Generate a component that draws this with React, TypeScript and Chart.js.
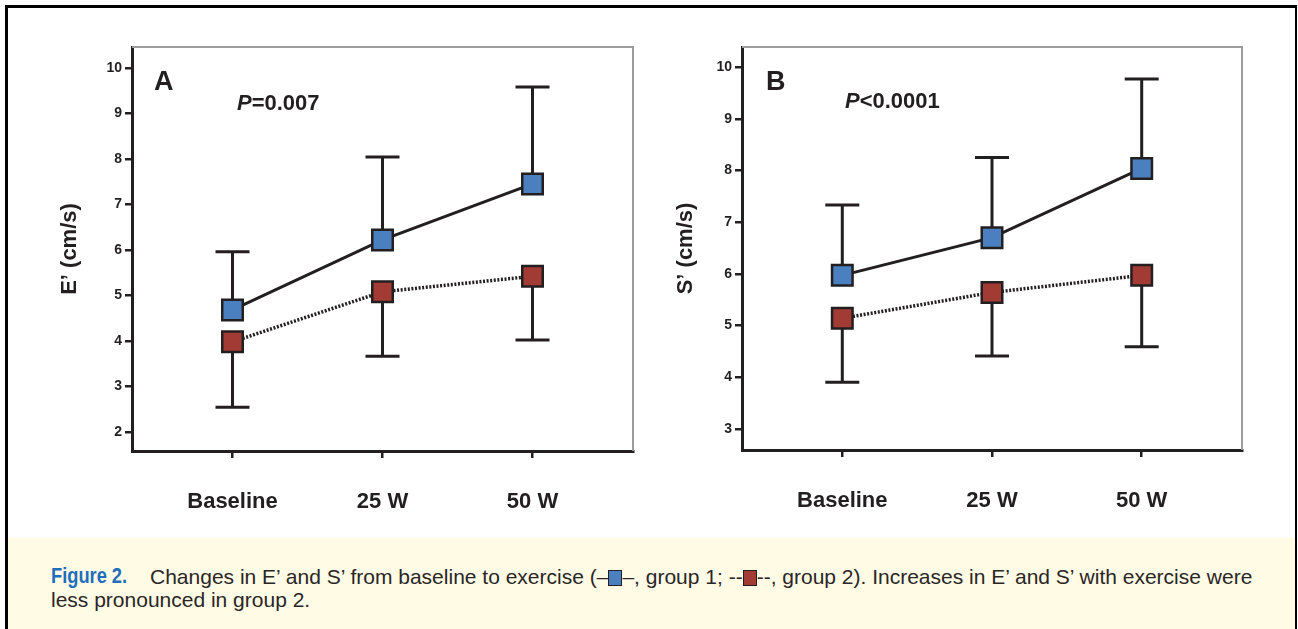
import React, { useEffect, useRef } from "react";
import { Chart, registerables } from "chart.js";
Chart.register(...registerables);

// ---------- data ----------
const categories = ["Baseline", "25 W", "50 W"];

// Panel A: E' (cm/s)
const eGroup1 = [4.68, 6.22, 7.45];
const eGroup1Upper = [5.96, 8.04, 9.58];
const eGroup2 = [3.98, 5.08, 5.42];
const eGroup2Lower = [2.54, 3.66, 4.02];
const eTicks = [2, 3, 4, 5, 6, 7, 8, 9, 10];

// Panel B: S' (cm/s)
const sGroup1 = [5.97, 6.7, 8.04];
const sGroup1Upper = [7.33, 8.25, 9.77];
const sGroup2 = [5.14, 5.64, 5.97];
const sGroup2Lower = [3.9, 4.41, 4.59];
const sTicks = [3, 4, 5, 6, 7, 8, 9, 10];

const INK = "#231f20";
const BLUE = "#4a7fc0";
const RED = "#a23b33";
const FONT = "'Liberation Sans', Arial, Helvetica, sans-serif";

type PanelDef = {
  letter: string;
  pItalic: string;
  pRest: string;
  yTitle: string;
  g1: number[];
  g1Up: number[];
  g2: number[];
  g2Lo: number[];
  ticks: number[];
  yMin: number;
  yMax: number;
  left: number;
  width: number;
  height: number;
  padRight: number;
  padTop: number;
  yAxisW: number;
  xAxisH: number;
  titlePad: number;
  letterX: number;
  letterY: number;
  pX: number;
  pY: number;
};

const panels: PanelDef[] = [
  {
    letter: "A",
    pItalic: "P",
    pRest: "=0.007",
    yTitle: "E\u2019 (cm/s)",
    g1: eGroup1,
    g1Up: eGroup1Upper,
    g2: eGroup2,
    g2Lo: eGroup2Lower,
    ticks: eTicks,
    yMin: 1.58,
    yMax: 10.46,
    left: 0,
    width: 660,
    height: 530,
    padRight: 27,
    padTop: 47,
    yAxisW: 132,
    xAxisH: 79,
    titlePad: 57,
    letterX: 154,
    letterY: 90,
    pX: 237,
    pY: 110,
  },
  {
    letter: "B",
    pItalic: "P",
    pRest: "<0.0001",
    yTitle: "S\u2019 (cm/s)",
    g1: sGroup1,
    g1Up: sGroup1Upper,
    g2: sGroup2,
    g2Lo: sGroup2Lower,
    ticks: sTicks,
    yMin: 2.59,
    yMax: 10.39,
    left: 650,
    width: 620,
    height: 530,
    padRight: 28,
    padTop: 47,
    yAxisW: 92,
    xAxisH: 80,
    titlePad: 23,
    letterX: 116,
    letterY: 90,
    pX: 195,
    pY: 108,
  },
];

function PanelChart({ def }: { def: PanelDef }) {
  const ref = useRef<HTMLCanvasElement | null>(null);
  useEffect(() => {
    if (!ref.current) return;
    const errorPlugin = {
      id: "errBars",
      beforeDatasetsDraw(chart: any) {
        const ctx = chart.ctx;
        const x = chart.scales.x;
        const y = chart.scales.y;
        const bounds = [def.g1Up, def.g2Lo];
        const means = [def.g1, def.g2];
        ctx.save();
        ctx.strokeStyle = INK;
        ctx.lineWidth = 3;
        ctx.lineCap = "butt";
        for (let s = 0; s < 2; s++) {
          for (let i = 0; i < categories.length; i++) {
            const px = x.getPixelForValue(i);
            const py0 = y.getPixelForValue(means[s][i]);
            const py1 = y.getPixelForValue(bounds[s][i]);
            ctx.beginPath();
            ctx.moveTo(px, py0);
            ctx.lineTo(px, py1);
            ctx.moveTo(px - 17, py1);
            ctx.lineTo(px + 17, py1);
            ctx.stroke();
          }
        }
        ctx.restore();
      },
      afterDraw(chart: any) {
        const ctx = chart.ctx;
        const a = chart.chartArea;
        ctx.save();
        ctx.strokeStyle = "#9c9c9c";
        ctx.lineWidth = 2;
        ctx.beginPath();
        ctx.moveTo(a.left, a.top);
        ctx.lineTo(a.right, a.top);
        ctx.lineTo(a.right, a.bottom);
        ctx.stroke();
        ctx.fillStyle = INK;
        ctx.textBaseline = "alphabetic";
        ctx.font = `bold 27px ${FONT}`;
        ctx.fillText(def.letter, def.letterX, def.letterY);
        ctx.font = `italic bold 22px ${FONT}`;
        ctx.fillText(def.pItalic, def.pX, def.pY);
        const w = ctx.measureText(def.pItalic).width;
        ctx.font = `bold 22px ${FONT}`;
        ctx.fillText(def.pRest, def.pX + w, def.pY);
        ctx.restore();
      },
    };

    const chart = new Chart(ref.current, {
      type: "line",
      data: {
        datasets: [
          {
            label: "group 1",
            data: def.g1.map((v, i) => ({ x: i, y: v })),
            borderColor: INK,
            borderWidth: 3,
            pointStyle: "rect",
            pointRadius: 14.5,
            pointBorderWidth: 2.5,
            pointBorderColor: INK,
            pointBackgroundColor: BLUE,
            tension: 0,
          },
          {
            label: "group 2",
            data: def.g2.map((v, i) => ({ x: i, y: v })),
            borderColor: INK,
            borderWidth: 3.5,
            borderDash: [2, 1.6],
            pointStyle: "rect",
            pointRadius: 14.5,
            pointBorderWidth: 2.5,
            pointBorderColor: INK,
            pointBackgroundColor: RED,
            tension: 0,
          },
        ],
      },
      options: {
        animation: false,
        responsive: false,
        maintainAspectRatio: false,
        events: [],
        layout: { padding: { left: 0, top: def.padTop, right: def.padRight, bottom: 0 } },
        plugins: { legend: { display: false }, tooltip: { enabled: false }, title: { display: false } },
        scales: {
          x: {
            type: "linear",
            min: -0.67,
            max: 2.67,
            afterBuildTicks: (scale: any) => {
              scale.ticks = categories.map((_, i) => ({ value: i }));
            },
            afterFit: (scale: any) => {
              scale.height = def.xAxisH;
            },
            ticks: {
              callback: (v: any) => categories[v as number] ?? "",
              color: INK,
              font: { family: FONT, size: 22, weight: "bold" },
              padding: 31,
              maxRotation: 0,
              autoSkip: false,
            },
            grid: {
              drawOnChartArea: false,
              drawTicks: true,
              tickLength: 7,
              color: INK,
              lineWidth: 2.5,
            },
            border: { display: true, color: INK, width: 3 },
          },
          y: {
            type: "linear",
            min: def.yMin,
            max: def.yMax,
            afterBuildTicks: (scale: any) => {
              scale.ticks = def.ticks.map((v) => ({ value: v }));
            },
            afterFit: (scale: any) => {
              scale.width = def.yAxisW;
            },
            ticks: {
              color: INK,
              font: { family: FONT, size: 14, weight: "bold" },
              padding: 3,
            },
            grid: {
              drawOnChartArea: false,
              drawTicks: true,
              tickLength: 7,
              color: INK,
              lineWidth: 2.5,
            },
            border: { display: true, color: INK, width: 3 },
            title: {
              display: true,
              text: def.yTitle,
              color: INK,
              font: { family: FONT, size: 22, weight: "bold" },
              padding: { top: def.titlePad, bottom: 0 },
            },
          },
        },
      },
      plugins: [errorPlugin],
    } as any);
    return () => chart.destroy();
  }, [def]);
  return (
    <canvas
      ref={ref}
      width={def.width}
      height={def.height}
      style={{ position: "absolute", left: def.left, top: 0, width: def.width, height: def.height }}
    />
  );
}

const boxStyle = (bg: string): React.CSSProperties => ({
  display: "inline-block",
  width: 14,
  height: 16,
  background: bg,
  border: `1.5px solid ${INK}`,
  boxSizing: "border-box",
  verticalAlign: "-2px",
});

export default function App() {
  return (
    <div
      style={{
        position: "absolute",
        left: 0,
        top: 0,
        width: 1298,
        height: 629,
        background: "#ffffff",
        overflow: "hidden",
        fontFamily: FONT,
      }}
    >
      <div
        style={{
          position: "absolute",
          left: 5,
          top: 5,
          width: 1287,
          height: 700,
          borderLeft: "3px solid #000",
          borderTop: "3px solid #000",
          borderRight: "2px solid #000",
          background: "#fff",
        }}
      >
        <div
          style={{
            position: "absolute",
            left: 0,
            top: 530,
            width: 1287,
            height: 200,
            background: "#fffbe4",
          }}
        />
      </div>
      {panels.map((p) => (
        <PanelChart key={p.letter} def={p} />
      ))}
      <div
        style={{
          position: "absolute",
          left: 51,
          top: 565,
          fontSize: 21,
          lineHeight: "23px",
          color: "#2a2627",
          whiteSpace: "nowrap",
          fontFamily: FONT,
        }}
      >
        <span
          style={{
            position: "absolute",
            left: 0,
            top: -1,
            color: "#1f6dbd",
            fontWeight: "bold",
            fontFamily: FONT,
            fontSize: 22,
            display: "inline-block",
            transform: "scaleX(0.83)",
            transformOrigin: "left center",
          }}
        >
          Figure 2.
        </span>
        <span style={{ marginLeft: 99 }}>
          Changes in E{"\u2019"} and S{"\u2019"} from baseline to exercise ({"\u2013"}
          <span style={boxStyle(BLUE)} />
          {"\u2013"}, group 1; --
          <span style={boxStyle(RED)} />
          --, group 2). Increases in E{"\u2019"} and S{"\u2019"} with exercise were
        </span>
        <br />
        less pronounced in group 2.
      </div>
    </div>
  );
}
